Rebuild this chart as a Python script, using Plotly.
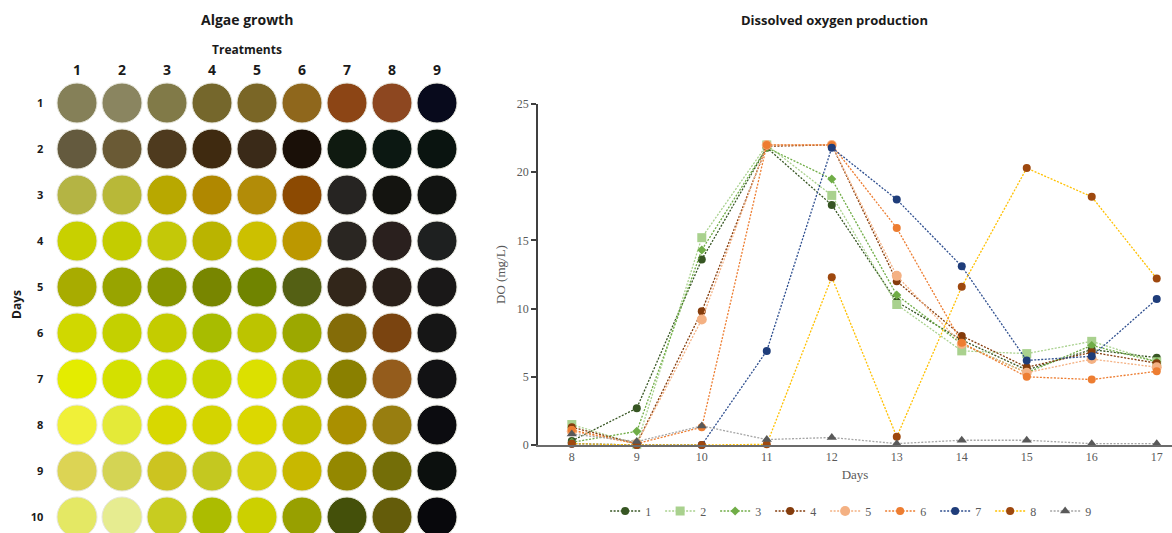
import plotly.graph_objects as go

# ---------------- data ----------------
treatments = ["1", "2", "3", "4", "5", "6", "7", "8", "9"]
day_rows = ["1", "2", "3", "4", "5", "6", "7", "8", "9", "10"]

circle_colors = [
    ["#858058", "#8A8560", "#817A48", "#75672C", "#7A6626", "#8F671C", "#8C4515", "#8D4720", "#080A1C"],
    ["#645A3E", "#6A5A35", "#4E3A1E", "#3F2A10", "#3A2A18", "#1A1008", "#0F1A10", "#0C1812", "#0A1410"],
    ["#B4B444", "#B8B838", "#B8A800", "#B08800", "#B28C08", "#8C4A02", "#262422", "#141410", "#121412"],
    ["#C8D000", "#C4CC00", "#C4C808", "#BAB400", "#CCC000", "#BC9800", "#2A2622", "#2A201E", "#1E2020"],
    ["#A8AC00", "#98A400", "#889600", "#788600", "#708400", "#546014", "#32261A", "#2A201A", "#1A1818"],
    ["#D0D800", "#C4D000", "#C4CC00", "#A8BC00", "#BCC400", "#9CA800", "#846C08", "#7A4410", "#161616"],
    ["#E4EC00", "#D4E000", "#CCDC00", "#C8D400", "#DCE000", "#B8BC00", "#8A8000", "#945C1C", "#121214"],
    ["#F0F038", "#E4EA38", "#D8D800", "#D4D400", "#DCD800", "#C4C000", "#AA9000", "#987E10", "#0C0C10"],
    ["#DCD454", "#D4D454", "#CCC420", "#C4C820", "#D4D010", "#C8B800", "#948800", "#746E08", "#0C100E"],
    ["#E4E864", "#E6EC90", "#C8CC20", "#ACBC00", "#CCD000", "#98A000", "#44500A", "#645C0A", "#08080C"],
]

days = [8, 9, 10, 11, 12, 13, 14, 15, 16, 17]
do_t1 = [0.3, 2.7, 13.6, 21.8, 17.6, 10.5, 7.7, 5.5, 7.0, 6.4]
do_t2 = [1.5, 0.05, 15.2, 22.0, 18.3, 10.3, 6.9, 6.7, 7.6, 6.1]
do_t3 = [0.2, 1.0, 14.3, 21.8, 19.5, 11.0, 7.4, 5.3, 7.3, 6.1]
do_t4 = [1.3, 0.1, 9.8, 21.9, 22.0, 12.0, 8.0, 5.7, 6.8, 6.0]
do_t5 = [1.0, 0.1, 9.2, 22.0, 22.0, 12.4, 7.4, 5.3, 6.3, 5.7]
do_t6 = [1.1, 0.1, 1.3, 22.0, 22.0, 15.9, 7.5, 5.0, 4.8, 5.4]
do_t7 = [0.1, 0.0, 0.0, 6.9, 21.8, 18.0, 13.1, 6.2, 6.5, 10.7]
do_t8 = [0.1, 0.0, 0.0, 0.05, 12.3, 0.6, 11.6, 20.3, 18.2, 12.2]
do_t9 = [0.8, 0.25, 1.4, 0.4, 0.55, 0.1, 0.35, 0.35, 0.1, 0.1]

series_names = ["1", "2", "3", "4", "5", "6", "7", "8", "9"]
series_values = [do_t1, do_t2, do_t3, do_t4, do_t5, do_t6, do_t7, do_t8, do_t9]
line_colors = ["#375623", "#A9D18E", "#70AD47", "#843C0C", "#F4B183", "#ED7D31", "#2F4F8F", "#FFC000", "#A5A5A5"]
marker_colors = ["#375623", "#A9D18E", "#70AD47", "#843C0C", "#F4B183", "#ED7D31", "#1F3D7A", "#9E480E", "#595959"]
marker_symbols = ["circle", "square", "diamond", "circle", "circle", "circle", "circle", "circle", "triangle-up"]
marker_sizes = [8, 9, 7, 8, 10, 8, 8, 8, 9]

# ---------------- figure ----------------
W, H = 1172, 533
fig = go.Figure()

# Algae grid
gx, gy, gc = [], [], []
for r, row in enumerate(circle_colors):
    for c, col in enumerate(row):
        gx.append(c + 1)
        gy.append(r + 1)
        gc.append(col)
fig.add_trace(go.Scatter(
    x=gx, y=gy, mode="markers", xaxis="x", yaxis="y", showlegend=False,
    cliponaxis=False, hoverinfo="skip",
    marker=dict(size=40, color=gc, line=dict(width=1, color="#E6E6DC")),
))

# DO lines
for name, vals, lc, mc, sym, ms in zip(series_names, series_values, line_colors,
                                        marker_colors, marker_symbols, marker_sizes):
    fig.add_trace(go.Scatter(
        x=days, y=vals, name=name, mode="lines+markers", xaxis="x2", yaxis="y2",
        cliponaxis=False,
        line=dict(color=lc, width=1.3, dash="2px,1.5px"),
        marker=dict(symbol=sym, size=ms, color=mc),
    ))

serif = "Liberation Serif"
gray = "#595959"
bold_font = "Open Sans"
dark = "#1a1a1a"


def label(text, x, y, size, angle=0):
    return dict(text="<b>%s</b>" % text, x=x / W, y=1 - y / H, xref="paper", yref="paper",
                xanchor="center", yanchor="middle", showarrow=False, textangle=angle,
                font=dict(family=bold_font, size=size, color=dark))


fig.update_layout(
    width=W, height=H,
    margin=dict(l=0, r=0, t=0, b=0, autoexpand=False),
    paper_bgcolor="white", plot_bgcolor="white",
    xaxis=dict(domain=[54.5 / W, 459.5 / W], range=[0.5, 9.5], side="top", automargin=False,
               tickvals=list(range(1, 10)), ticktext=["<b>%s</b>" % t for t in treatments],
               ticks="outside", ticklen=12, tickcolor="rgba(0,0,0,0)",
               tickfont=dict(family=bold_font, size=14, color=dark),
               showgrid=False, zeroline=False, showline=False, fixedrange=True),
    yaxis=dict(domain=[1 - 526.2 / H, 1 - 93.8 / H], range=[10.2, 0.8], automargin=False,
               tickvals=list(range(1, 11)), ticktext=["<b>%s</b>" % t for t in day_rows],
               ticks="outside", ticklen=8, tickcolor="rgba(0,0,0,0)",
               tickfont=dict(family=bold_font, size=11, color=dark),
               showgrid=False, zeroline=False, showline=False, fixedrange=True),
    xaxis2=dict(domain=[538 / W, 1.0], range=[7.48, 17.235], anchor="y2", automargin=False,
                tickvals=days, ticks="", showgrid=False, zeroline=False,
                showline=True, linecolor="#6b6b6b", linewidth=2,
                tickfont=dict(family=serif, size=12, color=gray),
                title=dict(text="Days", font=dict(family=serif, size=13, color=gray), standoff=6)),
    yaxis2=dict(domain=[1 - 445 / H, 1 - 104 / H], range=[0, 25], anchor="x2", automargin=False,
                tickvals=[0, 5, 10, 15, 20, 25], ticks="outside", ticklen=5,
                tickcolor="#404040", tickwidth=1.5, showgrid=False, zeroline=False,
                showline=True, linecolor="#404040", linewidth=1.5,
                tickfont=dict(family=serif, size=12, color=gray),
                title=dict(text="DO (mg/L)", font=dict(family=serif, size=13, color=gray), standoff=8)),
    legend=dict(orientation="h", x=0.7275, xanchor="center", y=1 - 511 / H, yanchor="middle",
                font=dict(family=serif, size=12, color=gray), itemwidth=30,
                entrywidth=10, entrywidthmode="pixels",
                bgcolor="rgba(0,0,0,0)"),
    annotations=[
        label("Algae growth", 247, 20, 14),
        label("Treatments", 247, 50, 12),
        label("Days", 16, 305, 12, -90),
        label("Dissolved oxygen production", 834, 20, 13),
    ],
)

fig.write_html("out.html", post_script="document.body.style.margin='0';",
               config={"displayModeBar": False})
